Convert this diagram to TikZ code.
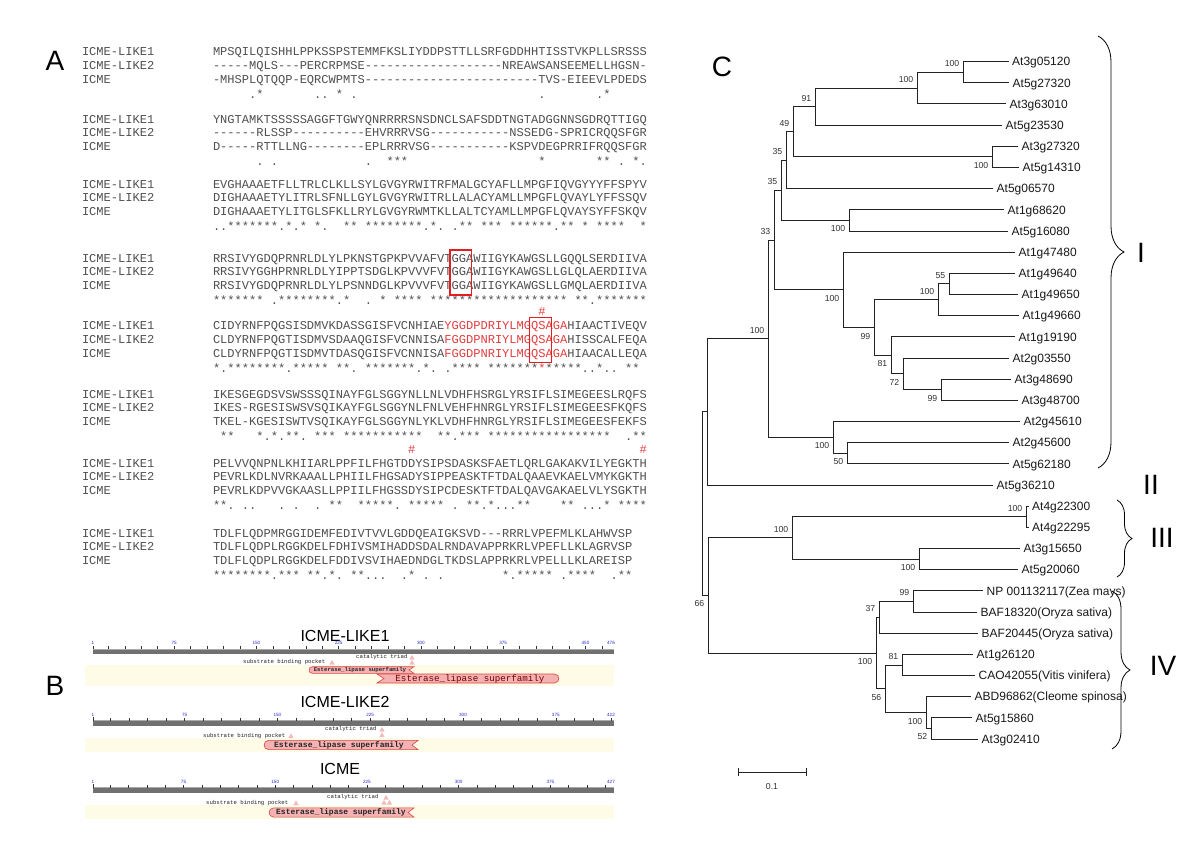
\documentclass[tikz,border=0pt]{standalone}
\usepackage{fontspec}
\setmainfont{Liberation Sans}
\setmonofont{Liberation Mono}
\usetikzlibrary{decorations.pathreplacing,calc}
\definecolor{seqgray}{RGB}{80,80,80}
\definecolor{seqred}{RGB}{228,62,62}
\definecolor{boxred}{RGB}{228,30,30}
\definecolor{rulergray}{RGB}{112,112,112}
\definecolor{rulerhi}{RGB}{170,170,170}
\definecolor{bandyellow}{RGB}{254,252,230}
\definecolor{domfill}{RGB}{246,178,178}
\definecolor{domline}{RGB}{214,72,72}
\definecolor{tickblue}{RGB}{40,40,205}
\definecolor{trifill}{RGB}{242,186,186}
\definecolor{treeline}{RGB}{35,35,35}
\newcommand\dsh[1]{\ifnum#1>0 -\dsh{\numexpr#1-1\relax}\fi}
\newcommand\alnblock[5]{%
  \node[seq] (#5n1) at (82,#1) {ICME-LIKE1};
  \node[seq] (#5n2) at (82,#1+13.8) {ICME-LIKE2};
  \node[seq] (#5n3) at (82,#1+27.6) {ICME};
  \node[seq] (#5s1) at (213,#1) {#2};
  \node[seq] (#5s2) at (213,#1+13.8) {#3};
  \node[seq] (#5s3) at (213,#1+27.6) {#4};}
\newcommand\conscols[3]{%
  \foreach \cc in {#2} {\node[cons] at ({213+(\cc+0.5)*7.23},#1) {*};}
  \foreach \cc in {#3} {\node[cons] at ({213+(\cc+0.5)*7.23},#1) {.};}}
\newcommand\ruler[3]{%
  \fill[rulergray] (93,#1-2.3) rectangle (614,#1+2.5);
  \draw[rulerhi,line width=0.5pt] (93,#1-2.3) -- (614,#1-2.3);
  \pgfmathsetmacro\rsc{521/(#2-1)}
  \draw[tickc] (93.3,#1-2.3) -- ++(0,-3.5);
  \foreach \nn in {15,30,...,#2} {\draw[tickc] ({93+(\nn-1)*\rsc},#1-2.3) -- ++(0,-3);}
  \foreach \nn in {#3} {\node[rulnum] at ({93+(\nn-1)*\rsc},#1-8.5) {\nn};}
  \node[rulnum] at (611,#1-8.5) {#2};}
\newcommand\domR[5]{% x1,x2,y,h,notch : round left, notch right
  \filldraw[dom] (#2,#3-#4) -- ({#2-#5},#3) -- (#2,#3+#4) -- ({#1+#4},#3+#4)
    .. controls ({#1-0.3*#4},#3+#4) and ({#1-0.3*#4},#3-#4) .. ({#1+#4},#3-#4) -- cycle;}
\newcommand\domL[5]{% notch left, round right
  \filldraw[dom] (#1,#3-#4) -- ({#1+#5},#3) -- (#1,#3+#4) -- ({#2-#4},#3+#4)
    .. controls ({#2+0.3*#4},#3+#4) and ({#2+0.3*#4},#3-#4) .. ({#2-#4},#3-#4) -- cycle;}
\newcommand\tri[2]{\fill[trifill] ({#1-2.6},{#2+2}) -- ({#1+2.6},{#2+2}) -- (#1,{#2-2.6}) -- cycle;}
\begin{document}
\begin{tikzpicture}[x=1pt,y=-1pt,
  seq/.style={font=\ttfamily\fontsize{12.05}{14}\selectfont, text=seqgray, anchor=base west, inner sep=0pt, outer sep=0pt},
  cons/.style={font=\ttfamily\fontsize{12.05}{14}\selectfont, text=seqgray, anchor=base, inner sep=0pt},
  hash/.style={cons, text=seqred},
  redbox/.style={draw=boxred, line width=1.3pt},
  panel/.style={font=\fontsize{28}{30}\selectfont, inner sep=0pt},
  ptitle/.style={font=\fontsize{16}{18}\selectfont, inner sep=0pt},
  rulnum/.style={font=\fontsize{4.6}{5}\selectfont, text=tickblue, inner sep=0pt},
  tickc/.style={line width=0.5pt, draw=black!80},
  tinytxt/.style={font=\ttfamily\fontsize{5.7}{6}\selectfont, inner sep=0pt, text=black!85, anchor=west},
  dom/.style={fill=domfill, draw=domline, line width=0.6pt},
  domtxt/.style={font=\ttfamily\bfseries\fontsize{8}{9}\selectfont, inner sep=0pt, text=black!85},
  treeln/.style={draw=treeline, line width=0.8pt},
  leaflab/.style={font=\fontsize{12}{14}\selectfont, anchor=base west, inner sep=0pt, text=black!90},
  boot/.style={font=\fontsize{8.7}{10}\selectfont, anchor=base east, inner sep=0pt, text=black!80},
  roman/.style={font=\fontsize{28}{30}\selectfont, inner sep=0pt},
  cladebrace/.style={decorate, decoration={brace, amplitude=#1}, draw=black, line width=0.8pt},
]
\useasboundingbox (0,0) rectangle (1200,844);
\fill[white] (0,0) rectangle (1200,844);

% ---------------- panel labels
\node[panel] (lblA) at (55,61) {A};
\node[panel] (lblB) at (55,686) {B};
\node[panel] (lblC) at (722,67) {C};

% ---------------- panel A : alignment
\alnblock{55.7}{MPSQILQISHHLPPKSSPSTEMMFKSLIYDDPSTTLLSRFGDDHHTISSTVKPLLSRSSS}{\dsh{5}MQLS\dsh{3}PERCRPMSE\dsh{19}NREAWSANSEEMELLHGSN-}{-MHSPLQTQQP-EQRCWPMTS\dsh{24}TVS-EIEEVLPDEDS}{a}
\conscols{98.2}{6,17,54}{5,14,15,19,45,53}

\alnblock{123}{YNGTAMKTSSSSSAGGFTGWYQNRRRRSNSDNCLSAFSDDTNGTADGGNNSGDRQTTIGQ}{\dsh{6}RLSSP\dsh{10}EHVRRRVSG\dsh{11}NSSEDG-SPRICRQQSFGR}{D\dsh{5}RTTLLNG\dsh{8}EPLRRRVSG\dsh{11}KSPVDEGPRRIFRQQSFGR}{b}
\conscols{165.5}{24,25,26,45,53,54,58}{6,8,21,56,59}

\alnblock{188}{EVGHAAAETFLLTRLCLKLLSYLGVGYRWITRFMALGCYAFLLMPGFIQVGYYYFFSPYV}{DIGHAAAETYLITRLSFNLLGYLGVGYRWITRLLALACYAMLLMPGFLQVAYLYFFSSQV}{DIGHAAAETYLITGLSFKLLRYLGVGYRWMTKLLALTCYAMLLMPGFLQVAYSYFFSKQV}{c}
\conscols{230.5}{2,3,4,5,6,7,8,10,12,14,18,19,21,22,23,24,25,26,27,28,30,34,35,37,38,39,41,42,43,44,45,46,48,49,51,53,54,55,56,59}{0,1,9,11,15,29,31,33,47}

\alnblock{262}{RRSIVYGDQPRNRLDLYLPKNSTGPKPVVAFVTGGAWIIGYKAWGSLLGQQLSERDIIVA}{RRSIVYGGHPRNRLDLYIPPTSDGLKPVVVFVTGGAWIIGYKAWGSLLGLQLAERDIIVA}{RRSIVYGDQPRNRLDLYLPSNNDGLKPVVVFVTGGAWIIGYKAWGSLLGMQLAERDIIVA}{d}
\conscols{304.5}{0,1,2,3,4,5,6,9,10,11,12,13,14,15,16,18,23,25,26,27,28,30,31,32,33,34,35,36,37,38,39,40,41,42,43,44,45,46,47,48,50,51,53,54,55,56,57,58,59}{8,17,21,52}

\node[hash] (h1) at ({213+45.5*7.23},315.2) {\#};
\alnblock{329.7}{CIDYRNFPQGSISDMVKDASSGISFVCNHIAE\textcolor{seqred}{YGGDPDRIYLMGQSAGA}HIAACTIVEQV}{CLDYRNFPQGTISDMVSDAAQGISFVCNNISA\textcolor{seqred}{FGGDPNRIYLMGQSAGA}HISSCALFEQA}{CLDYRNFPQGTISDMVTDASQGISFVCNNISA\textcolor{seqred}{FGGDPNRIYLMGQSAGA}HIAACALLEQA}{e}
\conscols{372.2}{0,2,3,4,5,6,7,8,9,11,12,13,14,15,17,18,21,22,23,24,25,26,27,29,33,34,35,36,38,39,40,41,42,43,44,46,47,48,49,50,53,57,58}{1,10,19,28,30,32,51,52,54,55}
\node[cons,text=seqred] (rs) at ({213+45.5*7.23},372.2) {*};

\alnblock{398}{IKESGEGDSVSWSSSQINAYFGLSGGYNLLNLVDHFHSRGLYRSIFLSIMEGEESLRQFS}{IKES-RGESISWSVSQIKAYFGLSGGYNLFNLVEHFHNRGLYRSIFLSIMEGEESFKQFS}{TKEL-KGESISWTVSQIKAYFGLSGGYNLYKLVDHFHNRGLYRSIFLSIMEGEESFEKFS}{f}
\conscols{440.5}{1,2,6,8,10,11,14,15,16,18,19,20,21,22,23,24,25,26,27,28,31,32,34,35,36,38,39,40,41,42,43,44,45,46,47,48,49,50,51,52,53,54,58,59}{7,9,12,33,57}

\node[hash] (h2) at ({213+27.5*7.23},453) {\#};
\node[hash] (h3) at ({213+59.5*7.23},453) {\#};
\alnblock{467}{PELVVQNPNLKHIIARLPPFILFHGTDDYSIPSDASKSFAETLQRLGAKAKVILYEGKTH}{PEVRLKDLNVRKAAALLPHIILFHGSADYSIPPEASKTFTDALQAAEVKAELVMYKGKTH}{PEVRLKDPVVGKAASLLPPIILFHGSSDYSIPCDESKTFTDALQAVGAKAELVLYSGKTH}{g}
\conscols{509.5}{0,1,16,17,20,21,22,23,24,27,28,29,30,31,35,36,38,42,43,48,49,54,56,57,58,59}{2,4,5,9,11,14,25,33,37,39,40,41,51,52,53}

\alnblock{537}{TDLFLQDPMRGGIDEMFEDIVTVVLGDDQEAIGKSVD\dsh{3}RRRLVPEFMLKLAHWVSP}{TDLFLQDPLRGGKDELFDHIVSMIHADDSDALRNDAVAPPRKRLVPEFLLKLAGRVSP}{TDLFLQDPLRGGKDELFDDIVSVIHAEDNDGLTKDSLAPPRKRLVPELLLKLAREISP}{h}
\conscols{579.5}{0,1,2,3,4,5,6,7,9,10,11,13,14,16,19,20,27,40,42,43,44,45,46,49,50,51,52,56,57}{8,15,17,21,22,23,26,29,31,41,48,55}

% motif boxes, drawn on top
\draw[redbox,boxred] ({213+33*7.23-1.5},250) rectangle ({213+36*7.23-1.5},295);
\draw[redbox,boxred] ({213+44*7.23-1.5},317.7) rectangle ({213+47*7.23-1.5},362.7);

% ---------------- panel B : domains
\fill[bandyellow] (85,665) rectangle (614,686);
\fill[bandyellow] (85,738) rectangle (614,752);
\fill[bandyellow] (85,805) rectangle (614,819);

\node[ptitle] (t1) at (345,636) {ICME-LIKE1};
\ruler{651.5}{476}{1,75,150,225,300,375,450}
\node[tinytxt] (ct1) at (356,656.7) {catalytic triad};
\tri{412}{657.5}\tri{412}{662.5}
\node[tinytxt] (sb1) at (243,662.5) {substrate binding pocket};
\tri{332}{662.5}
\domR{309}{414}{670}{3.3}{5}
\node[domtxt,font=\ttfamily\bfseries\fontsize{5.7}{6}\selectfont] (d1) at (360,670.2) {Esterase\_lipase superfamily};
\domL{377}{559}{678.5}{4.5}{7}
\node[domtxt,font=\ttfamily\fontsize{9.2}{10}\selectfont,text=red!45!black] (d2) at (470,678.7) {Esterase\_lipase superfamily};

\node[ptitle] (t2) at (345,702) {ICME-LIKE2};
\ruler{723}{422}{1,75,150,225,300,375}
\node[tinytxt] (ct2) at (325,729) {catalytic triad};
\tri{382}{729.5}\tri{382}{735}
\node[tinytxt] (sb2) at (203,736) {substrate binding pocket};
\tri{291}{736}
\domR{264}{418}{745}{4.6}{6}
\node[domtxt] (d3) at (339,745.3) {Esterase\_lipase superfamily};

\node[ptitle] (t3) at (340,769) {ICME};
\ruler{790}{427}{1,75,150,225,300,375}
\node[tinytxt] (ct3) at (327,797) {catalytic triad};
\tri{386}{797.5}\tri{384}{802.5}\tri{389.5}{802.5}
\node[tinytxt] (sb3) at (206,803) {substrate binding pocket};
\tri{296}{803}
\domR{269}{414}{812.5}{4.6}{6}
\node[domtxt] (d4) at (341,812.8) {Esterase\_lipase superfamily};

% ---------------- panel C : tree
\foreach \i/\lx/\ly/\lbl in {1/1008.5/61.5/At3g05120, 2/1009/82.7/At5g27320, 3/1006/103.8/At3g63010, 4/1002/125.0/At5g23530, 5/1018/146.2/At3g27320, 6/1019/167.4/At5g14310, 7/993/188.5/At5g06570, 8/1004/209.7/At1g68620, 9/1008/230.9/At5g16080, 10/1015/252.0/At1g47480, 11/1015/273.2/At1g49640, 12/1018/294.4/At1g49650, 13/1019/315.5/At1g49660, 14/1015/336.7/At1g19190, 15/1009/357.9/At2g03550, 16/1011/379.1/At3g48690, 17/1018/400.2/At3g48700, 18/1020/421.4/At2g45610, 19/1009/442.6/At2g45600, 20/1009/463.7/At5g62180, 21/993/484.9/At5g36210, 22/1028.5/506.1/At4g22300, 23/1028.5/527.2/At4g22295, 24/1020/548.4/At3g15650, 25/1018/569.6/At5g20060, 26/983/590.7/NP 001132117(Zea mays), 27/977/611.9/BAF18320(Oryza sativa), 28/978/633.1/BAF20445(Oryza sativa), 29/973/654.3/At1g26120, 30/975/675.4/CAO42055(Vitis vinifera), 31/971/696.6/ABD96862(Cleome spinosa), 32/972/717.8/At5g15860, 33/978/738.9/At3g02410}
{\coordinate (t\i) at (\lx,\ly);
 \node[leaflab] (lab\i) at (\lx+3.5,\ly+4.3) {\lbl};}

\coordinate (na) at (963,72.1);
\coordinate (nb) at (917,88.0);
\coordinate (nc) at (815,106.5);
\coordinate (nd) at (992,156.8);
\coordinate (ne) at (793,131.6);
\coordinate (nf) at (786,160.1);
\coordinate (ng) at (849,220.3);
\coordinate (nh) at (781,190.2);
\coordinate (ni) at (949,283.8);
\coordinate (nj) at (938,299.7);
\coordinate (nk) at (941,389.7);
\coordinate (nl) at (903,373.8);
\coordinate (nm) at (891,355.2);
\coordinate (nn) at (874,327.5);
\coordinate (no) at (843,289.7);
\coordinate (np) at (774,240.0);
\coordinate (nr) at (847,453.2);
\coordinate (nq) at (833,437.3);
\coordinate (ns) at (768,338.6);
\coordinate (nt) at (707.5,411.8);
\coordinate (nu) at (1026,516.7);
\coordinate (nv) at (919,559.0);
\coordinate (nw) at (792,537.8);
\coordinate (nx) at (913,601.3);
\coordinate (ny) at (879,617.2);
\coordinate (nz) at (902,664.9);
\coordinate (nbb) at (931,728.4);
\coordinate (naa) at (926,712.5);
\coordinate (ncc) at (885,688.7);
\coordinate (ndd) at (876,653.0);
\coordinate (nee) at (708,595.4);
\coordinate (root) at (702,503.6);

\foreach \cn/\pn in {t1/na,t2/na,na/nb,t3/nb,nb/nc,t4/nc,t5/nd,t6/nd,nc/ne,nd/ne,ne/nf,t7/nf,t8/ng,t9/ng,nf/nh,ng/nh,nh/np,
  t11/ni,t12/ni,ni/nj,t13/nj,t16/nk,t17/nk,t15/nl,nk/nl,t14/nm,nl/nm,nj/nn,nm/nn,t10/no,nn/no,no/np,
  np/ns,t19/nr,t20/nr,t18/nq,nr/nq,nq/ns,ns/nt,t21/nt,nt/root,
  t22/nu,t23/nu,t24/nv,t25/nv,nu/nw,nv/nw,nw/nee,
  t26/nx,t27/nx,nx/ny,t28/ny,t29/nz,t30/nz,t32/nbb,t33/nbb,t31/naa,nbb/naa,nz/ncc,naa/ncc,ny/ndd,ncc/ndd,ndd/nee,nee/root}
  {\draw[treeln] (\cn) -| (\pn);}

\foreach \bn/\bv in {na/100,nb/100,nc/91,ne/49,nf/35,nh/35,ni/55,nj/100,np/33,ns/100,nu/100,nw/100,nx/99,ny/37,nz/81}
  {\node[boot] at ($(\bn)+(-3.5,-5.5)$) {\bv};}
\foreach \bn/\bv in {nd/100,ng/100,nk/99,nl/72,nm/81,nn/99,no/100,nq/100,nr/50,nv/100,nbb/52,naa/100,ncc/56,ndd/100,nee/66}
  {\node[boot] at ($(\bn)+(-3.5,11.5)$) {\bv};}

% scale bar
\coordinate (sbl) at (738,772);
\coordinate (sbr) at (806,772);
\draw[treeln] (sbl) -- (sbr);
\draw[treeln] ($(sbl)+(0,-4)$) -- ($(sbl)+(0,4)$);
\draw[treeln] ($(sbr)+(0,-4)$) -- ($(sbr)+(0,4)$);
\node[boot,anchor=base] (sbt) at (772,789) {0.1};

% clade braces
\draw[cladebrace=26pt] (1098,36) -- (1098,468);
\draw[cladebrace=15pt] (1117,500) -- (1117,577);
\draw[cladebrace=18pt] (1112,591) -- (1112,749);
\node[roman] (rI) at (1141,253) {I};
\node[roman] (rII) at (1151,485) {II};
\node[roman] (rIII) at (1162,538) {III};
\node[roman] (rIV) at (1163,666) {IV};
\end{tikzpicture}
\end{document}
